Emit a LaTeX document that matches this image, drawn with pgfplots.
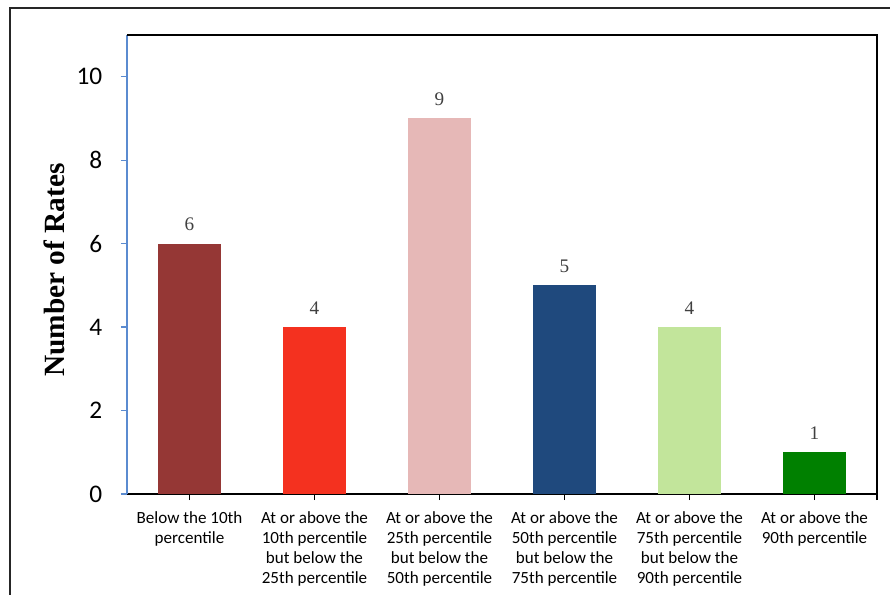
\documentclass[border=0pt]{standalone}
\usepackage{fontspec}
\setmainfont{Carlito}
\newfontfamily\timesfont{Liberation Serif}
\usepackage{pgfplots}
\pgfplotsset{compat=1.18}

\definecolor{barA}{HTML}{953735}
\definecolor{barB}{HTML}{F4311F}
\definecolor{barC}{HTML}{E6B8B7}
\definecolor{barD}{HTML}{1F497D}
\definecolor{barE}{HTML}{C2E59B}
\definecolor{barF}{HTML}{008000}
\definecolor{yline}{HTML}{5B8BD0}

\begin{document}
\begin{tikzpicture}
% page frame (1px = 0.75pt)
\useasboundingbox (-95.25pt,-75pt) rectangle (572.25pt,370.5pt);
\draw[line width=1.5pt, black!85] (-87.75pt,-80pt) -- (-87.75pt,364.5pt) -- (580pt,364.5pt);

\begin{axis}[
  width=562.5pt, height=344.25pt, scale only axis,
  xmin=-0.5, xmax=5.5, ymin=0, ymax=11,
  axis lines*=left,
  axis line style={-, line width=1pt},
  x axis line style={black},
  y axis line style={yline},
  ytick={0,2,...,10},
  xtick={0,...,5},
  extra x ticks={5.5}, extra x tick labels={},
  tick align=outside,
  major tick length=4.5pt,
  xtick style={black, line width=1pt},
  ytick style={yline, line width=1pt},
  /pgf/number format/assume math mode=true,
  yticklabel style={font=\fontsize{19}{22}\selectfont, xshift=-10.5pt},
  xticklabel style={font=\fontsize{12.8}{15}\selectfont, align=center, yshift=-5pt},
  xticklabels={
    Below the 10th\\percentile,
    At or above the\\10th percentile\\but below the\\25th percentile,
    At or above the\\25th percentile\\but below the\\50th percentile,
    At or above the\\50th percentile\\but below the\\75th percentile,
    At or above the\\75th percentile\\but below the\\90th percentile,
    At or above the\\90th percentile},
  ybar,
  nodes near coords,
  nodes near coords style={font=\timesfont\fontsize{14.4}{16}\selectfont, text=black!75, anchor=south, yshift=6pt},
]
\addplot[ybar, bar width=0.5, bar shift=0pt, fill=barA, draw=none] coordinates {(0,6)};
\addplot[ybar, bar width=0.5, bar shift=0pt, fill=barB, draw=none] coordinates {(1,4)};
\addplot[ybar, bar width=0.5, bar shift=0pt, fill=barC, draw=none] coordinates {(2,9)};
\addplot[ybar, bar width=0.5, bar shift=0pt, fill=barD, draw=none] coordinates {(3,5)};
\addplot[ybar, bar width=0.5, bar shift=0pt, fill=barE, draw=none] coordinates {(4,4)};
\addplot[ybar, bar width=0.5, bar shift=0pt, fill=barF, draw=none] coordinates {(5,1)};
\end{axis}

% top and right border of the plot area
\draw[line width=1pt, black] (0,344.25pt) -- (562.5pt,344.25pt) -- (562.5pt,0);

\node[rotate=90, font=\timesfont\bfseries\fontsize{22}{26}\selectfont] at (-54.75pt,168pt) {Number of Rates};
\end{tikzpicture}
\end{document}
